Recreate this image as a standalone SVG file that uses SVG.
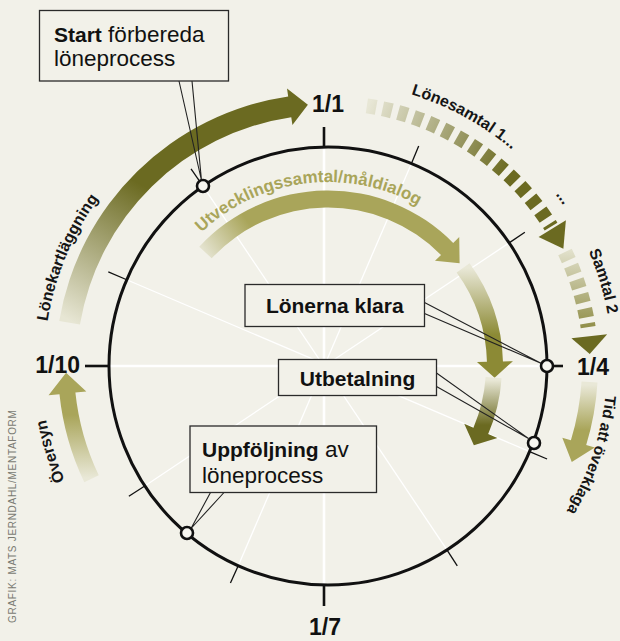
<svg xmlns="http://www.w3.org/2000/svg" width="620" height="641" viewBox="0 0 620 641">
<defs>
<style>
.lbl{font-family:"Liberation Sans",Arial,sans-serif;font-weight:bold;font-size:16px;fill:#151515}
.date{font-family:"Liberation Sans",Arial,sans-serif;font-weight:bold;font-size:23px;fill:#111}
.box{fill:#f2f1e9;stroke:#2a2a2a;stroke-width:1.3}
.bt{font-family:"Liberation Sans",Arial,sans-serif;font-size:22.5px;fill:#111}
.b{font-weight:bold;font-size:21px}
.ptr{stroke:#222;stroke-width:1.1;fill:none}
.node{fill:#f7f6f0;stroke:#111;stroke-width:2.6}
.tick{stroke:#111;stroke-width:1.3}
.mtick{stroke:#111;stroke-width:2.6}
.spoke{stroke:#fff;stroke-width:1.3}
.axis{stroke:#fff;stroke-width:2.6}
.credit{font-family:"Liberation Sans",Arial,sans-serif;font-size:10px;letter-spacing:0.7px;fill:#7a7a72}
</style>
<linearGradient id="gA" gradientUnits="userSpaceOnUse" x1="72" y1="322" x2="150" y2="190"><stop offset="0" stop-color="#e7e6d4"/><stop offset="1" stop-color="#6b6a21"/></linearGradient>
<linearGradient id="gB" gradientUnits="userSpaceOnUse" x1="205" y1="253" x2="248" y2="222"><stop offset="0" stop-color="#e4e3cf"/><stop offset="1" stop-color="#a9a55a"/></linearGradient>
<linearGradient id="gC" gradientUnits="userSpaceOnUse" x1="368" y1="106" x2="505" y2="175"><stop offset="0" stop-color="#e8e7d6"/><stop offset="1" stop-color="#6b6a21"/></linearGradient>
<linearGradient id="gD" gradientUnits="userSpaceOnUse" x1="0" y1="250" x2="0" y2="330"><stop offset="0" stop-color="#e2e1cc"/><stop offset="1" stop-color="#8e8c45"/></linearGradient>
<linearGradient id="gE" gradientUnits="userSpaceOnUse" x1="0" y1="268" x2="0" y2="335"><stop offset="0" stop-color="#e9e8d7"/><stop offset="1" stop-color="#8c8a35"/></linearGradient>
<linearGradient id="gF" gradientUnits="userSpaceOnUse" x1="0" y1="380" x2="0" y2="425"><stop offset="0" stop-color="#e9e8d7"/><stop offset="1" stop-color="#6b6a21"/></linearGradient>
<linearGradient id="gG" gradientUnits="userSpaceOnUse" x1="0" y1="385" x2="0" y2="430"><stop offset="0" stop-color="#e9e8d7"/><stop offset="1" stop-color="#a9a55a"/></linearGradient>
<linearGradient id="gH" gradientUnits="userSpaceOnUse" x1="0" y1="478" x2="0" y2="415"><stop offset="0" stop-color="#e9e8d7"/><stop offset="1" stop-color="#a9a55a"/></linearGradient>
<path id="tpUtv" d="M201.34,232.53 A184,184 0 0,1 446.27,225.05"/>
<path id="tpLk" d="M47.50,321.57 A284,284 0 0,1 145.45,148.44"/>
<path id="tpLs" d="M411.03,94.41 A284,284 0 0,1 545.56,183.45"/>
<path id="tpDots" d="M555.61,194.48 A285,285 0 0,1 579.64,232.2"/>
<path id="tpS2" d="M588.73,251.36 A284,284 0 0,1 610.92,340.75"/>
<path id="tpTid" d="M605.47,395.16 A279,279 0 0,1 550.82,533.91"/>
<path id="tpOv" d="M64.80,480.44 A287,287 0 0,1 42.09,391.01"/>
</defs>

<rect x="0" y="0" width="620" height="641" fill="#f2f1e9"/>

<g id="wheel">
<line class="axis" x1="324" y1="148" x2="324" y2="584"/>
<line class="axis" x1="110" y1="366" x2="546" y2="366"/>
<line class="spoke" x1="411.45" y1="163.52" x2="238.23" y2="565.75"/>
<line class="spoke" x1="509.13" y1="242.90" x2="144.75" y2="485.92"/>
<line class="spoke" x1="529.59" y1="451.57" x2="126.71" y2="279.73"/>
<line class="spoke" x1="446.95" y1="549.88" x2="203.02" y2="186.17"/>
<circle cx="328" cy="366" r="219" fill="none" stroke="#111" stroke-width="3"/>
<line class="tick" x1="411.45" y1="163.52" x2="418.69" y2="145.96"/>
<line class="tick" x1="509.13" y1="242.90" x2="524.85" y2="232.22"/>
<line class="tick" x1="529.59" y1="451.57" x2="547.08" y2="458.99"/>
<line class="tick" x1="446.95" y1="549.88" x2="457.27" y2="565.83"/>
<line class="tick" x1="238.23" y1="565.75" x2="230.44" y2="583.08"/>
<line class="tick" x1="144.75" y1="485.92" x2="128.85" y2="496.32"/>
<line class="tick" x1="126.71" y1="279.73" x2="108.3" y2="271.8"/>
<line class="tick" x1="203.02" y1="186.17" x2="191.03" y2="168.92"/>
<line class="mtick" x1="324" y1="127" x2="324" y2="148"/>
<line class="mtick" x1="324" y1="584" x2="324" y2="606"/>
<line class="mtick" x1="85" y1="366" x2="110" y2="366"/>
<line class="mtick" x1="546" y1="366" x2="563" y2="366"/>
<text class="date" x="328" y="112" text-anchor="middle">1/1</text>
<text class="date" x="80" y="373" text-anchor="end">1/10</text>
<text class="date" x="577" y="375">1/4</text>
<text class="date" x="325" y="635" text-anchor="middle">1/7</text>
</g>

<g id="arrows">
<path id="a-lonekart" fill="url(#gA)" d="M59.24,321.02 A272.5,272.5 0 0,1 288.19,96.42 L287.02,88.51 L307.9,104.77 L292.43,125.11 L291.26,117.20 A251.5,251.5 0 0,0 79.95,324.49 Z"/>
<path id="a-utv" fill="url(#gB)" d="M199.23,246.76 A175.5,175.5 0 0,1 453.18,242.99 L459.24,237.03 L459.60,263.18 L434.99,260.86 L441.05,254.91 A158.5,158.5 0 0,0 211.70,258.31 Z"/>
<path id="a-lonesamtal" fill="none" stroke="url(#gC)" stroke-width="15" stroke-dasharray="9.5 6.5" d="M366.87,105.89 A263,263 0 0,1 551.04,226.63"/>
<path fill="#6b6a21" d="M565.89,220.22 L563.37,248.65 L538.60,236.94 Z"/>
<path id="a-samtal2" fill="none" stroke="url(#gD)" stroke-width="15" stroke-dasharray="9 6" d="M564.98,251.95 A263,263 0 0,1 588.11,327.13"/>
<path fill="#6b6a21" d="M607.19,334.19 L589.73,354.12 L571.42,338.27 Z"/>
<path id="a-klara" fill="url(#gE)" d="M469.58,263.14 A175,175 0 0,1 502.94,361.42 L512.94,361.16 L494.59,377.65 L476.95,362.1 L486.95,361.84 A159,159 0 0,0 456.63,272.54 Z"/>
<path id="a-utbet" fill="url(#gF)" d="M501.58,378.14 A174,174 0 0,1 488.17,433.99 L497.37,437.89 L473.88,445.21 L464.23,423.83 L473.44,427.74 A158,158 0 0,0 485.61,377.02 Z"/>
<path id="a-tid" fill="url(#gG)" d="M597.50,382.48 A270,270 0 0,1 586.20,444.94 L594.80,447.57 L571.77,462.02 L562.30,437.63 L570.90,440.26 A254,254 0 0,0 581.53,381.51 Z"/>
<path id="a-oversyn" fill="url(#gH)" d="M84.30,482.24 A270,270 0 0,1 59.48,394.22 L48.54,395.37 L66.09,372.86 L86.33,391.40 L75.39,392.55 A254,254 0 0,0 98.74,475.35 Z"/>
</g>

<g id="arrow-labels">
<text class="lbl" style="fill:#a9a55a;font-size:17px"><textPath href="#tpUtv">Utvecklingssamtal/måldialog</textPath></text>
<text class="lbl"><textPath href="#tpLk">Lönekartläggning</textPath></text>
<text class="lbl"><textPath href="#tpLs">Lönesamtal 1...</textPath></text>
<text class="lbl"><textPath href="#tpDots">...</textPath></text>
<text class="lbl"><textPath href="#tpS2">Samtal 2</textPath></text>
<text class="lbl" style="font-size:15.5px"><textPath href="#tpTid">Tid att överklaga</textPath></text>
<text class="lbl"><textPath href="#tpOv">Översyn</textPath></text>
</g>

<g id="connectors">
<path class="ptr" d="M179,81 L201.5,180.5 L192,81"/>
<path class="ptr" d="M424.5,302.5 L541.5,363.5 L424.5,313.5"/>
<path class="ptr" d="M436.5,373 L528.5,438.5 L436.5,386.5"/>
<path class="ptr" d="M210.5,492.5 L191,528.5 L224,492.5"/>
</g>

<g id="node-start">
<rect class="box" x="39.5" y="10.5" width="189" height="70.5"/>
<text class="bt" x="54" y="41.5"><tspan class="b">Start</tspan> förbereda</text>
<text class="bt" x="54" y="65.5">löneprocess</text>
<circle class="node" cx="203" cy="186" r="6"/>
</g>

<g id="node-klara">
<rect class="box" x="245" y="284.5" width="179.5" height="42"/>
<text class="bt b" x="334.75" y="313" text-anchor="middle">Lönerna klara</text>
<circle class="node" cx="547" cy="366" r="6"/>
</g>

<g id="node-utbet">
<rect class="box" x="278.5" y="359.5" width="158" height="36"/>
<text class="bt b" x="357.5" y="385.5" text-anchor="middle">Utbetalning</text>
<circle class="node" cx="534" cy="443" r="6"/>
</g>

<g id="node-uppf">
<rect class="box" x="190" y="426" width="186.5" height="66.5"/>
<text class="bt" x="202" y="456.5"><tspan class="b">Uppföljning</tspan> av</text>
<text class="bt" x="202" y="483">löneprocess</text>
<circle class="node" cx="187" cy="533" r="6"/>
</g>

<text class="credit" transform="translate(16,623) rotate(-90)">GRAFIK: MATS JERNDAHL/MENTAFORM</text>
</svg>
